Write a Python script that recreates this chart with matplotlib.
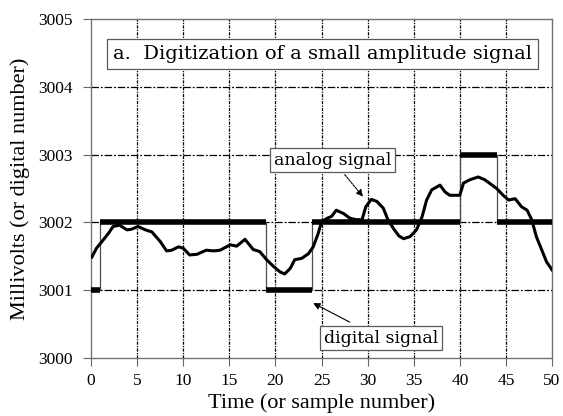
import numpy as np
import matplotlib.pyplot as plt

plt.rcParams['font.family'] = ['Liberation Serif', 'DejaVu Serif']

# analog signal
analog_t = [0.1, 0.6, 1.2, 1.9, 2.4, 3.1, 3.9, 4.4, 5.1, 5.9, 6.6, 7.5, 8.2, 8.75,
            9.5, 10.0, 10.7, 11.5, 12.5, 13.3, 14.0, 15.1, 15.8, 16.7, 17.6, 18.3,
            19.05, 19.8, 20.5, 21.0, 21.6, 22.1, 22.85, 23.6, 24.1, 24.65, 25.0,
            25.6, 26.1, 26.6, 27.4, 28.1, 28.8, 29.4, 29.8, 30.4, 31.0, 31.7, 32.2,
            32.8, 33.4, 33.9, 34.6, 35.3, 35.9, 36.4, 36.95, 37.85, 38.4, 38.9,
            40.0, 40.4, 41.1, 42.0, 42.7, 43.5, 44.0, 44.7, 45.3, 46.0, 46.7, 47.3,
            47.8, 48.3, 48.9, 49.4, 50.0]
analog_mv = [3001.49, 3001.62, 3001.72, 3001.84, 3001.94, 3001.96, 3001.89, 3001.90,
             3001.94, 3001.89, 3001.86, 3001.72, 3001.58, 3001.59, 3001.64, 3001.62,
             3001.52, 3001.53, 3001.59, 3001.58, 3001.59, 3001.67, 3001.65, 3001.75,
             3001.60, 3001.57, 3001.45, 3001.35, 3001.27, 3001.24, 3001.32, 3001.45,
             3001.47, 3001.54, 3001.64, 3001.84, 3002.01, 3002.06, 3002.09, 3002.18,
             3002.13, 3002.06, 3002.04, 3002.04, 3002.23, 3002.34, 3002.31, 3002.21,
             3002.04, 3001.91, 3001.80, 3001.76, 3001.79, 3001.89, 3002.08, 3002.33,
             3002.48, 3002.55, 3002.45, 3002.40, 3002.40, 3002.58, 3002.63, 3002.67,
             3002.63, 3002.55, 3002.50, 3002.40, 3002.33, 3002.35, 3002.23, 3002.18,
             3002.04, 3001.79, 3001.59, 3001.42, 3001.30]

# digital signal, one value per sample (held until the next sample)
sample_n = list(range(51))
digital = ([3001] + [3002] * 18 + [3001] * 5 + [3002] * 16 + [3003] * 4 + [3002] * 7)

xticks = list(range(0, 51, 5))
yticks = [3000, 3001, 3002, 3003, 3004, 3005]

fig = plt.figure(figsize=(5.63, 4.16), dpi=100)
ax = fig.add_axes([0.1616, 0.1394, 0.8189, 0.8149])

ax.set_xlim(0, 50)
ax.set_ylim(3000, 3005)
ax.set_xticks(xticks)
ax.set_yticks(yticks)
ax.set_yticklabels([str(v) for v in yticks])
ax.tick_params(direction='out', length=6, width=0.8, labelsize=12.5, color='0.4')
ax.tick_params(axis='x', pad=5)
ax.tick_params(axis='y', pad=7)

for v in xticks[1:-1]:
    ax.axvline(v, color='k', lw=0.9, ls=(0, (2.5, 1.0, 1.0, 1.0)), zorder=1)
for v in yticks[1:-1]:
    ax.axhline(v, color='k', lw=0.9, ls=(0, (6, 1.5, 1.5, 1.5)), zorder=1)
for s in ax.spines.values():
    s.set_color('0.45')
    s.set_linewidth(1.0)

# digital: thin verticals + thick held levels
ax.step(sample_n, digital, where='post', color='0.3', lw=0.9, zorder=2)
d = np.array(digital)
starts = [0] + [i for i in range(1, len(d)) if d[i] != d[i - 1]]
ends = starts[1:] + [50]
for a, b in zip(starts, ends):
    ax.hlines(d[a], a, b, color='k', lw=4, zorder=3)

ax.plot(analog_t, analog_mv, color='k', lw=2.2, zorder=4)

box_font = 'DejaVu Serif'
ax.text(25.1, 3004.48, 'a.  Digitization of a small amplitude signal', fontsize=14,
        family=box_font, ha='center', va='center',
        bbox=dict(boxstyle='square,pad=0.32', fc='white', ec='0.35', lw=0.9), zorder=5)

ax.annotate('analog signal', xy=(29.5, 3002.38), xytext=(26.2, 3002.92), fontsize=12.5,
            family=box_font, ha='center', va='center',
            bbox=dict(boxstyle='square,pad=0.2', fc='white', ec='0.35', lw=0.9),
            arrowprops=dict(arrowstyle='-|>', color='k', lw=0.8, ls=(0, (2, 1)),
                            shrinkA=2, shrinkB=0, mutation_scale=10), zorder=5)
ax.annotate('digital signal', xy=(24.1, 3000.81), xytext=(31.45, 3000.29), fontsize=12.5,
            family=box_font, ha='center', va='center',
            bbox=dict(boxstyle='square,pad=0.2', fc='white', ec='0.35', lw=0.9),
            arrowprops=dict(arrowstyle='-|>', color='k', lw=0.8,
                            shrinkA=6, shrinkB=0, mutation_scale=10), zorder=5)

ax.set_xlabel('Time (or sample number)', fontsize=16, labelpad=3)
ax.set_ylabel('Millivolts (or digital number)', fontsize=16, labelpad=6)

fig.savefig('out.png', dpi=100)
